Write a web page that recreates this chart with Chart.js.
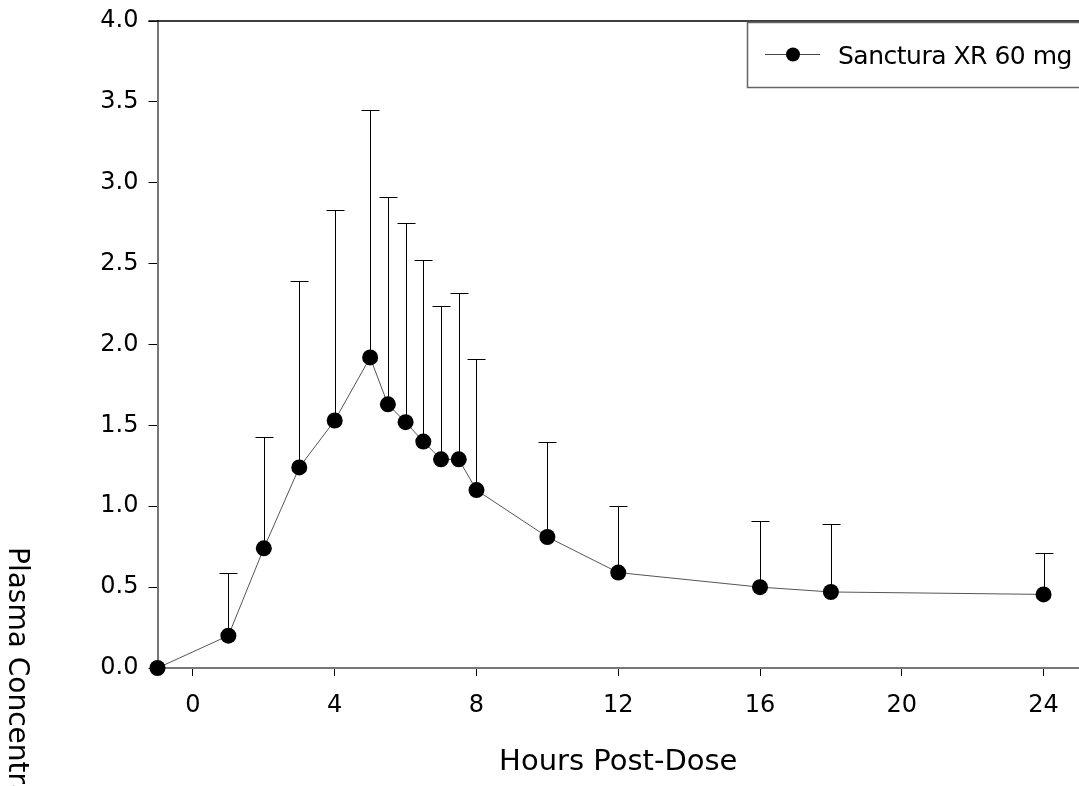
<!DOCTYPE html>
<html>
<head>
<meta charset="utf-8">
<script src="https://cdn.jsdelivr.net/npm/chart.js@4.4.1/dist/chart.umd.min.js"></script>
<style>
  html, body { margin: 0; padding: 0; background: #fff; }
  #wrap { width: 1079px; height: 786px; position: relative; }
</style>
</head>
<body>
<div id="wrap"><canvas id="myChart" width="1079" height="786"></canvas></div>
<script>
// values
const hours = [-1, 1, 2, 3, 4, 5, 5.5, 6, 6.5, 7, 7.5, 8, 10, 12, 16, 18, 24];
const meanConc = [0.0, 0.20, 0.74, 1.24, 1.53, 1.92, 1.63, 1.52, 1.40, 1.29, 1.29, 1.10, 0.81, 0.59, 0.50, 0.47, 0.455];
const upperSD = [null, 0.59, 1.43, 2.39, 2.83, 3.45, 2.91, 2.75, 2.52, 2.24, 2.32, 1.91, 1.40, 1.00, 0.91, 0.89, 0.71];
const xTickValues = [0, 4, 8, 12, 16, 20, 24];
const seriesName = "Sanctura XR 60 mg";
const xTitle = "Hours Post-Dose";
const yTitle = "Plasma Concentration (ng/mL)";

const FONT = "'DejaVu Sans', sans-serif";

// error bars (upper only), drawn before the points
const errorBars = {
  id: "errorBars",
  beforeDatasetsDraw(chart) {
    const ctx = chart.ctx;
    const xs = chart.scales.x, ys = chart.scales.y;
    ctx.save();
    ctx.strokeStyle = "#000";
    ctx.lineWidth = 1;
    hours.forEach((h, i) => {
      if (upperSD[i] == null) return;
      const px = Math.round(xs.getPixelForValue(h)) + 0.5;
      const y0 = ys.getPixelForValue(meanConc[i]);
      const y1 = Math.round(ys.getPixelForValue(upperSD[i])) + 0.5;
      ctx.beginPath();
      ctx.moveTo(px, y0);
      ctx.lineTo(px, y1);
      ctx.moveTo(px - 9, y1);
      ctx.lineTo(px + 9, y1);
      ctx.stroke();
    });
    ctx.restore();
  }
};

// top frame line, legend box, axis titles
const extras = {
  id: "extras",
  afterDraw(chart) {
    const ctx = chart.ctx;
    const area = chart.chartArea;
    ctx.save();
    // top line
    ctx.strokeStyle = "#000";
    ctx.lineWidth = 1.5;
    ctx.beginPath();
    ctx.moveTo(area.left - 9, area.top);
    ctx.lineTo(chart.width, area.top);
    ctx.stroke();

    // legend
    ctx.strokeStyle = "#666";
    ctx.lineWidth = 1.5;
    ctx.strokeRect(747.5, 22.5, 345, 65);
    ctx.strokeStyle = "#444";
    ctx.lineWidth = 1;
    ctx.beginPath();
    ctx.moveTo(765, 54.5);
    ctx.lineTo(820, 54.5);
    ctx.stroke();
    ctx.fillStyle = "#000";
    ctx.beginPath();
    ctx.arc(793, 54.5, 7, 0, Math.PI * 2);
    ctx.fill();
    ctx.font = "25px " + FONT;
    ctx.letterSpacing = "-0.5px";
    ctx.textBaseline = "alphabetic";
    ctx.textAlign = "left";
    ctx.fillText(seriesName, 838, 64);
    ctx.letterSpacing = "0px";

    // x title
    ctx.font = "29px " + FONT;
    ctx.textAlign = "center";
    ctx.fillText(xTitle, (area.left + area.right) / 2, 770);

    // y title, reads top to bottom
    ctx.font = "28px " + FONT;
    ctx.translate(9, 547);
    ctx.rotate(Math.PI / 2);
    ctx.textAlign = "left";
    ctx.fillText(yTitle, 0, 0);
    ctx.restore();
  }
};

const ctx = document.getElementById("myChart").getContext("2d");
new Chart(ctx, {
  type: "line",
  data: {
    datasets: [{
      label: seriesName,
      data: hours.map((h, i) => ({ x: h, y: meanConc[i] })),
      borderColor: "#555",
      borderWidth: 1,
      pointRadius: 8,
      pointHoverRadius: 8,
      pointBackgroundColor: "#000",
      pointBorderWidth: 0,
      tension: 0,
      clip: false
    }]
  },
  options: {
    responsive: false,
    animation: false,
    events: [],
    layout: { autoPadding: false, padding: { top: 21, right: 0, left: 0, bottom: 0 } },
    plugins: {
      legend: { display: false },
      tooltip: { enabled: false }
    },
    scales: {
      x: {
        type: "linear",
        min: -1,
        max: 25,
        afterBuildTicks: axis => { axis.ticks = xTickValues.map(v => ({ value: v })); },
        afterFit: axis => {
          axis.height = 118;
          axis.paddingLeft = 0;
          axis.paddingRight = 0;
        },
        grid: { drawOnChartArea: false, drawTicks: true, tickLength: 8, color: "#000", lineWidth: 1 },
        border: { display: true, color: "#777", width: 2 },
        ticks: { color: "#000", font: { family: FONT, size: 24 }, padding: 15, maxRotation: 0 }
      },
      y: {
        min: 0,
        max: 4,
        ticks: {
          stepSize: 0.5,
          color: "#000",
          font: { family: FONT, size: 24 },
          padding: 10,
          callback: v => v.toFixed(1)
        },
        afterFit: axis => {
          axis.width = 157.5;
          axis.paddingTop = 0;
          axis.paddingBottom = 0;
        },
        grid: { drawOnChartArea: false, drawTicks: true, tickLength: 9, color: "#000", lineWidth: 1 },
        border: { display: true, color: "#777", width: 2 }
      }
    }
  },
  plugins: [errorBars, extras]
});
</script>
</body>
</html>
